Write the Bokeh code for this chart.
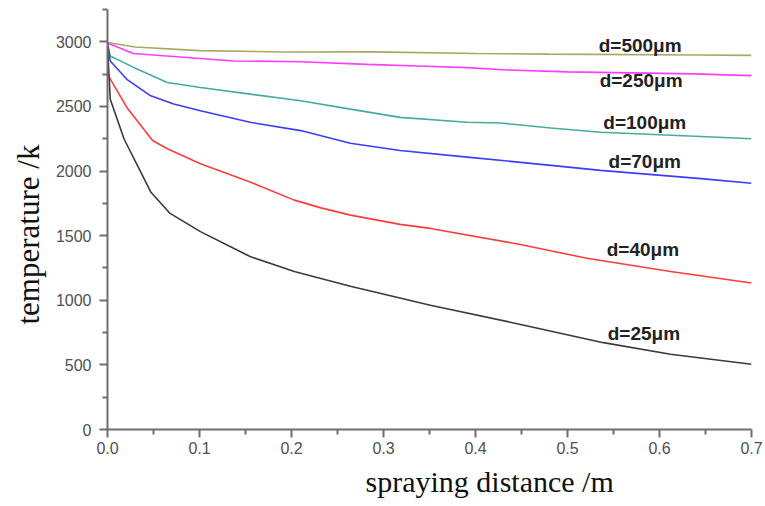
from bokeh.plotting import figure
from bokeh.models import Range1d, FixedTicker, NumeralTickFormatter, ColumnDataSource, Title
from bokeh.core.properties import value
from bokeh.embed import file_html
from bokeh.resources import INLINE

# ---- data ----
x_500 = [0.0, 0.03, 0.1, 0.19, 0.29, 0.4, 0.48, 0.64, 0.7]
t_500 = [2995, 2960, 2932, 2921, 2922, 2910, 2905, 2898, 2895]

x_250 = [0.0, 0.028, 0.137, 0.21, 0.282, 0.337, 0.391, 0.434, 0.5, 0.637, 0.7]
t_250 = [2990, 2910, 2852, 2846, 2825, 2813, 2800, 2782, 2767, 2752, 2738]

x_100 = [0.0, 0.003, 0.029, 0.065, 0.101, 0.155, 0.21, 0.264, 0.318, 0.391, 0.427, 0.482, 0.536, 0.645, 0.7]
t_100 = [2990, 2890, 2800, 2685, 2646, 2595, 2544, 2479, 2415, 2377, 2372, 2333, 2300, 2267, 2250]

x_70 = [0.0, 0.003, 0.021, 0.047, 0.072, 0.101, 0.155, 0.21, 0.264, 0.318, 0.391, 0.482, 0.536, 0.645, 0.7]
t_70 = [2985, 2852, 2710, 2582, 2518, 2467, 2377, 2313, 2215, 2159, 2108, 2044, 2005, 1941, 1905]

x_40 = [0.0, 0.001, 0.021, 0.049, 0.065, 0.101, 0.155, 0.203, 0.232, 0.264, 0.318, 0.351, 0.45, 0.521, 0.612, 0.7]
t_40 = [2960, 2736, 2492, 2236, 2172, 2056, 1915, 1775, 1715, 1659, 1587, 1556, 1430, 1325, 1223, 1133]

x_25 = [0.0, 0.003, 0.018, 0.047, 0.068, 0.101, 0.155, 0.203, 0.264, 0.351, 0.449, 0.539, 0.612, 0.7]
t_25 = [2970, 2556, 2248, 1838, 1672, 1531, 1338, 1223, 1108, 962, 813, 672, 582, 505]

series_names = ["d=500\u03bcm", "d=250\u03bcm", "d=100\u03bcm", "d=70\u03bcm", "d=40\u03bcm", "d=25\u03bcm"]
series_x = [x_500, x_250, x_100, x_70, x_40, x_25]
series_t = [t_500, t_250, t_100, t_70, t_40, t_25]
series_colors = ["#a9a862", "#ff3cff", "#46aaa2", "#3c3cff", "#ff3c3c", "#3a3a3a"]

label_x = [0.579, 0.580, 0.584, 0.584, 0.582, 0.583]
label_y = [2969, 2700, 2377, 2077, 1392, 746]

x_ticks = [0.0, 0.1, 0.2, 0.3, 0.4, 0.5, 0.6, 0.7]
x_minor = [0.05, 0.15, 0.25, 0.35, 0.45, 0.55, 0.65]
y_ticks = [0, 500, 1000, 1500, 2000, 2500, 3000]
y_minor = [250, 750, 1250, 1750, 2250, 2750, 3250]

x_title = "spraying distance /m"
y_title = "temperature /k"

# ---- figure ----
p = figure(width=765, height=506, output_backend="svg", toolbar_location=None,
           x_range=Range1d(0, 0.7), y_range=Range1d(0, 3250),
           min_border_left=107, min_border_right=14, min_border_top=9, min_border_bottom=77)
p.xgrid.visible = False
p.ygrid.visible = False
p.outline_line_color = None
p.background_fill_color = "white"
p.border_fill_color = "white"

p.xaxis.ticker = FixedTicker(ticks=x_ticks, minor_ticks=x_minor)
p.yaxis.ticker = FixedTicker(ticks=y_ticks, minor_ticks=y_minor)
p.xaxis.formatter = NumeralTickFormatter(format="0.0")

for ax in (p.xaxis[0], p.yaxis[0]):
    ax.axis_line_color = "#6e6e6e"
    ax.axis_line_width = 2
    ax.major_tick_line_color = "#6e6e6e"
    ax.major_tick_line_width = 2
    ax.minor_tick_line_color = "#6e6e6e"
    ax.minor_tick_line_width = 2
    ax.major_tick_out = 8
    ax.major_tick_in = 0
    ax.minor_tick_out = 5
    ax.minor_tick_in = 0
    ax.major_label_text_font = "Liberation Sans"
    ax.major_label_text_font_size = "16px"
    ax.major_label_text_color = "#505050"
p.yaxis.major_label_standoff = 8
p.xaxis.major_label_standoff = 4

for xs, ts, c in zip(series_x, series_t, series_colors):
    p.line(xs, ts, line_color=c, line_width=1.6)

src = ColumnDataSource(dict(x=label_x, y=label_y, text=series_names))
p.text(x="x", y="y", text="text", source=src, text_font=value("Liberation Sans"),
       text_font_style="bold", text_font_size="19px", text_color="#222222",
       text_align="center", text_baseline="middle")

p.add_layout(Title(text=x_title, align="left", offset=258, standoff=12,
                   text_font="Liberation Serif", text_font_style="normal",
                   text_font_size="30px", text_color="#111111"), "below")
p.add_layout(Title(text=y_title, align="left", offset=105, standoff=14,
                   text_font="Liberation Serif", text_font_style="normal",
                   text_font_size="31px", text_color="#111111"), "left")

open("out.html", "w").write(file_html(p, INLINE))
